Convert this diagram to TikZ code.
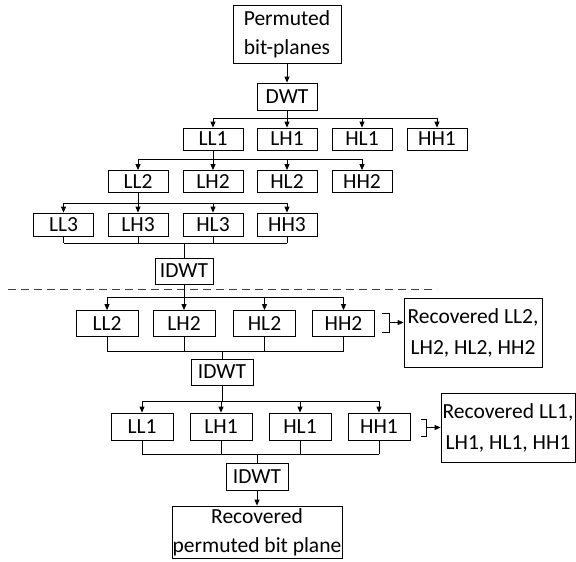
\documentclass[tikz,border=0pt]{standalone}
\usepackage{fontspec}
\setmainfont{Carlito}
\usetikzlibrary{arrows.meta}
\begin{document}
\begin{tikzpicture}[x=1pt,y=-1pt,
  bx/.style={draw, line width=0.8pt, inner sep=0pt, font=\fontsize{21.5}{29}\selectfont, align=center},
  sb/.style={bx, minimum width=60pt, minimum height=22pt},
  mb/.style={bx, minimum width=62pt, minimum height=26pt},
  ln/.style={line width=0.8pt},
  arr/.style={ln, -{Triangle[length=6pt,width=5pt]}}]
\useasboundingbox (0,0) rectangle (576,562);
% top part
\node[bx, minimum width=108pt, minimum height=58pt] (top) at (287,34) {Permuted\\bit-planes};
\node[bx, minimum width=60pt, minimum height=27pt] (dwt) at (287,96.5) {DWT};
\node[sb] (a1) at (213,139) {LL1};
\node[sb] (a2) at (287,139) {LH1};
\node[sb] (a3) at (362,139) {HL1};
\node[sb] (a4) at (437,139) {HH1};
\node[sb] (b1) at (138,181.5) {LL2};
\node[sb] (b2) at (213,181.5) {LH2};
\node[sb] (b3) at (287,181.5) {HL2};
\node[sb] (b4) at (362,181.5) {HH2};
\node[sb, minimum height=23pt] (c1) at (63.5,224.5) {LL3};
\node[sb, minimum height=23pt] (c2) at (138,224.5) {LH3};
\node[sb, minimum height=23pt] (c3) at (213,224.5) {HL3};
\node[sb, minimum height=23pt] (c4) at (287,224.5) {HH3};
\node[bx, minimum width=58pt, minimum height=26pt] (idwt1) at (184,271) {IDWT};
% bottom part
\node[mb] (d1) at (107,323.5) {LL2};
\node[mb] (d2) at (184,323.5) {LH2};
\node[mb] (d3) at (264.5,323.5) {HL2};
\node[mb] (d4) at (343.5,323.5) {HH2};
\node[mb] (idwt2) at (222,372) {IDWT};
\node[mb, minimum height=27pt] (e1) at (142,426.5) {LL1};
\node[mb, minimum height=27pt] (e2) at (221,426.5) {LH1};
\node[mb, minimum height=27pt] (e3) at (300,426.5) {HL1};
\node[mb, minimum height=27pt] (e4) at (379,426.5) {HH1};
\node[mb, minimum height=27pt] (idwt3) at (257,476.5) {IDWT};
\node[bx, minimum width=170pt, minimum height=52pt] (fin) at (257,532) {Recovered\\permuted bit plane};
\node[bx, minimum width=138pt, minimum height=69pt, font=\fontsize{21.5}{31}\selectfont] (r2) at (473,332.5) {Recovered LL2,\\LH2, HL2, HH2};
\node[bx, minimum width=134pt, minimum height=69pt, font=\fontsize{21.5}{31}\selectfont] (r1) at (508,427.5) {Recovered LL1,\\LH1, HL1, HH1};
% connectors: top
\draw[arr] (top) -- (dwt);
\draw[ln] (dwt.south) -- ++(0,8) coordinate (h1);
\draw[ln] (a1.north |- h1) -- (a4.north |- h1);
\foreach \n in {a1,a2,a3,a4} \draw[arr] (\n.north |- h1) -- (\n.north);
\draw[ln] (a1.south) -- ++(0,9) coordinate (h2);
\draw[ln] (b1.north |- h2) -- (b4.north |- h2);
\foreach \n in {b1,b2,b3,b4} \draw[arr] (\n.north |- h2) -- (\n.north);
\draw[ln] (b1.south) -- ++(0,10.5) coordinate (h3);
\draw[ln] (c1.north |- h3) -- (c4.north |- h3);
\foreach \n in {c1,c2,c3,c4} \draw[arr] (\n.north |- h3) -- (\n.north);
\coordinate (g1) at (0,243);
\foreach \n in {c1,c2,c3,c4} \draw[ln] (\n.south) -- (\n.south |- g1);
\draw[ln] (c1.south |- g1) -- (c4.south |- g1);
\draw[ln] (idwt1.north |- g1) -- (idwt1.north);
% dashed separator
\coordinate (s1) at (8,289);
\coordinate (s2) at (437,289);
\draw[line width=0.8pt, dash pattern=on 8pt off 5pt, black!75] (s1) -- (s2);
% connectors: bottom
\draw[ln] (idwt1.south) -- ++(0,13) coordinate (h4);
\draw[ln] (d1.north |- h4) -- (d4.north |- h4);
\foreach \n in {d1,d2,d3,d4} \draw[arr] (\n.north |- h4) -- (\n.north);
\coordinate (g2) at (0,351);
\foreach \n in {d1,d2,d3,d4} \draw[ln] (\n.south) -- (\n.south |- g2);
\draw[ln] (d1.south |- g2) -- (d4.south |- g2);
\draw[ln] (idwt2.north |- g2) -- (idwt2.north);
\draw[ln] (idwt2.south) -- ++(0,16) coordinate (h5);
\draw[ln] (e1.north |- h5) -- (e4.north |- h5);
\foreach \n in {e1,e2,e3,e4} \draw[arr] (\n.north |- h5) -- (\n.north);
\coordinate (g3) at (0,454);
\foreach \n in {e1,e2,e3,e4} \draw[ln] (\n.south) -- (\n.south |- g3);
\draw[ln] (e1.south |- g3) -- (e4.south |- g3);
\draw[ln] (idwt3.north |- g3) -- (idwt3.north);
\draw[arr] (idwt3) -- (fin);
% brackets
\coordinate (k1) at (382,313);
\coordinate (k2) at (389,332);
\coordinate (m1) at (389,322.5);
\draw[ln] (k1) -| (k2) -- (k1 |- k2);
\draw[arr] (m1) -- (m1 -| r2.west);
\coordinate (k3) at (421,419);
\coordinate (k4) at (426,436);
\coordinate (m2) at (426,427.5);
\draw[ln] (k3) -| (k4) -- (k3 |- k4);
\draw[arr] (m2) -- (m2 -| r1.west);
\end{tikzpicture}
\end{document}
